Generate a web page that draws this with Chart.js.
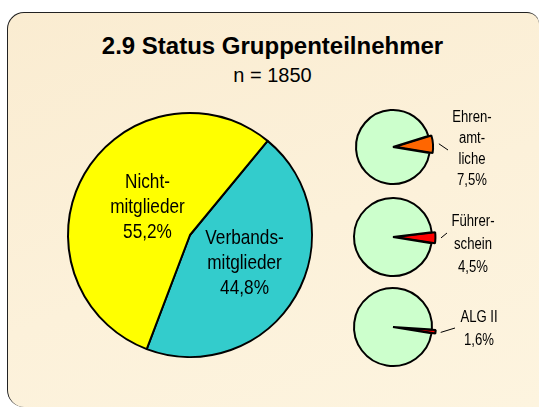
<!DOCTYPE html>
<html>
<head>
<meta charset="utf-8">
<script src="https://cdn.jsdelivr.net/npm/chart.js@4.4.0/dist/chart.umd.min.js"></script>
<style>
  html, body { margin: 0; padding: 0; background: #fff; overflow: hidden; }
  #wrap { width: 539px; height: 407px; position: relative; overflow: hidden; }
  #box {
    position: absolute; left: 7px; top: 12px; width: 532px; height: 395px;
    box-sizing: border-box;
    border: 1.5px solid #222; border-right: none; border-bottom: none;
    border-radius: 17px 12px 0 17px;
    background: linear-gradient(160deg, #faecd1 0%, #fcf1da 55%, #fdf4df 100%);
  }
  .title { position: absolute; left: 0; width: 545px; text-align: center; color: #000;
           font-family: "Liberation Sans", Arial, sans-serif; }
  #t1 { top: 32px; font-size: 24px; font-weight: bold; line-height: 28px; }
  #t2 { top: 64px; font-size: 20px; line-height: 23px; }
  canvas { position: absolute; }
</style>
</head>
<body>
<div id="wrap">
<div id="box"></div>
<div class="title" id="t1">2.9 Status Gruppenteilnehmer</div>
<div class="title" id="t2">n = 1850</div>
<canvas id="mainPie" width="260" height="260" style="left:60px;top:105px"></canvas>
<canvas id="pie1" width="189" height="90" style="left:350px;top:102px"></canvas>
<canvas id="pie2" width="189" height="90" style="left:350px;top:192px"></canvas>
<canvas id="pie3" width="189" height="90" style="left:350px;top:282px"></canvas>
</div>
<script>
// Hauptkreis: Verbandsmitglieder / Nichtmitglieder (Prozent)
const mainLabels = [["Verbands-", "mitglieder"], ["Nicht-", "mitglieder"]];
const mainValues = [44.8, 55.2];
const mainColors = ["#33cccc", "#ffff00"];

// kleine Kreise: Anteil je Merkmal (Prozent)
const smallLabels = [["Ehren-", "amt-", "liche"], ["Führer-", "schein"], ["ALG II"]];
const smallValues = [7.5, 4.5, 1.6];
const smallColors = ["#ff6600", "#ff0000", "#ff0000"];

// keine Narrow-Schrift installiert -> Liberation Sans horizontal gestaucht
const labelFont = '"Liberation Sans", Arial, sans-serif';
const squeeze = 0.82;

function pct(v) {
  return v.toFixed(1).replace(".", ",") + "%";
}

function narrowText(ctx, t, x, y) {
  ctx.save();
  ctx.translate(x, y);
  ctx.scale(squeeze, 1);
  ctx.fillText(t, 0, 0);
  ctx.restore();
}

const mainLabelPlugin = {
  id: "mainLabels",
  afterDatasetsDraw(chart) {
    const ctx = chart.ctx;
    const arcs = chart.getDatasetMeta(0).data;
    ctx.save();
    ctx.font = "21px " + labelFont;
    ctx.fillStyle = "#000";
    ctx.textAlign = "center";
    ctx.textBaseline = "middle";
    arcs.forEach((arc, i) => {
      const mid = (arc.startAngle + arc.endAngle) / 2;
      const r = arc.outerRadius * 0.46;
      const x = arc.x + Math.cos(mid) * r + 6;
      const y = arc.y + Math.sin(mid) * r;
      const lines = [...mainLabels[i], pct(mainValues[i])];
      lines.forEach((t, k) => narrowText(ctx, t, x, y + (k - (lines.length - 1) / 2) * 25));
    });
    ctx.restore();
  },
};

new Chart(document.getElementById("mainPie"), {
  type: "pie",
  data: {
    labels: mainLabels.map((l) => l.join("")),
    datasets: [{
      data: mainValues,
      backgroundColor: mainColors,
      borderColor: "#000",
      borderWidth: 2,
    }],
  },
  options: {
    responsive: false,
    animation: false,
    rotation: 39.5,
    radius: 122,
    plugins: { legend: { display: false }, tooltip: { enabled: false } },
  },
  plugins: [mainLabelPlugin],
});

// Lage der Beschriftung relativ zum Kreismittelpunkt
const smallLayout = [
  { rotation: 72.5, radius: 37, lead: [55, 3], text: [79, 2.5], lh: 21 },
  { rotation: 83, radius: 39, lead: [54, -4], text: [80, 8], lh: 23 },
  { rotation: 93.6, radius: 39, lead: [62, 1], text: [86, 2.5], lh: 23 },
];

function smallLabelPlugin(idx) {
  return {
    id: "smallLabels" + idx,
    afterDatasetsDraw(chart) {
      const ctx = chart.ctx;
      const arc = chart.getDatasetMeta(0).data[0];
      const lay = smallLayout[idx];
      const mid = (arc.startAngle + arc.endAngle) / 2;
      const off = arc.options.offset || 0;
      const tipR = arc.outerRadius + off + 1;
      ctx.save();
      ctx.strokeStyle = "#000";
      ctx.lineWidth = 1;
      ctx.beginPath();
      ctx.moveTo(arc.x + Math.cos(mid) * tipR, arc.y + Math.sin(mid) * tipR);
      ctx.lineTo(arc.x + lay.lead[0], arc.y + lay.lead[1]);
      ctx.stroke();
      ctx.font = "16px " + labelFont;
      ctx.fillStyle = "#000";
      ctx.textAlign = "center";
      ctx.textBaseline = "middle";
      const lines = [...smallLabels[idx], pct(smallValues[idx])];
      const cx = arc.x + lay.text[0];
      const cy = arc.y + lay.text[1];
      lines.forEach((t, k) => narrowText(ctx, t, cx, cy + (k - (lines.length - 1) / 2) * lay.lh));
      ctx.restore();
    },
  };
}

smallValues.forEach((v, i) => {
  new Chart(document.getElementById("pie" + (i + 1)), {
    type: "pie",
    data: {
      labels: [smallLabels[i].join(""), "Rest"],
      datasets: [{
        data: [v, 100 - v],
        backgroundColor: [smallColors[i], "#ccffcc"],
        borderColor: "#000",
        borderWidth: 2,
        offset: [8, 0],
      }],
    },
    options: {
      responsive: false,
      animation: false,
      rotation: smallLayout[i].rotation,
      radius: smallLayout[i].radius,
      layout: { padding: { right: 103 } },
      plugins: { legend: { display: false }, tooltip: { enabled: false } },
    },
    plugins: [smallLabelPlugin(i)],
  });
});
</script>
</body>
</html>
